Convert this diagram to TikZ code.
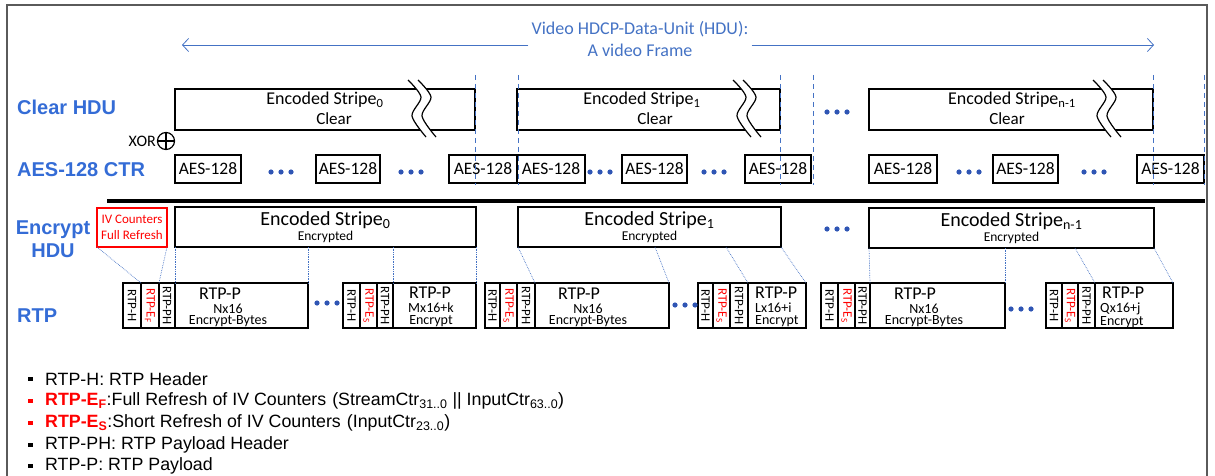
\documentclass[tikz,border=0pt]{standalone}
\usepackage{fontspec}
\setmainfont{Carlito}
\newfontfamily\arialf{Liberation Sans}
\usetikzlibrary{arrows.meta,calc}
\definecolor{lblue}{RGB}{68,114,196}
\definecolor{hblue}{RGB}{52,108,214}
\definecolor{dblue}{RGB}{47,85,180}
\definecolor{frame}{RGB}{90,90,90}
\newcommand\fs[2]{\fontsize{#1}{#2}\selectfont}
\newcommand\threedots[2]{\foreach \k in {-10,0,10}{\fill[dblue] (#1+\k,#2) circle[radius=2.6];}}
\newcommand\brk[1]{%
  \fill[white] plot[smooth] coordinates {(#1,80) (#1+13,97) (#1+4,116) (#1+18,137)} -- plot[smooth] coordinates {(#1+28,137) (#1+14,116) (#1+23,97) (#1+10,80)} -- cycle;
  \draw[line width=1.2] plot[smooth] coordinates {(#1,80) (#1+13,97) (#1+4,116) (#1+18,137)};
  \draw[line width=1.2] plot[smooth] coordinates {(#1+10,80) (#1+23,97) (#1+14,116) (#1+28,137)};
}
\newcommand\pkt[7]{%
  \node[cell,minimum width={#3-#2}] (#1h) at (#2,283) {};
  \node[cell,minimum width={#4-#3}] (#1e) at (#3,283) {};
  \node[cell,minimum width={#5-#4}] (#1ph) at (#4,283) {};
  \node[cell,minimum width={#6-#5}] (#1p) at (#5,283) {};
  \node[rot] at (#1h.center) {RTP-H};
  \node[rot,text=red] at (#1e.center) {RTP-E\textsubscript{#7}};
  \node[rot] at (#1ph.center) {RTP-PH};
}
\begin{document}
\begin{tikzpicture}[x=1pt,y=-1pt,
  box/.style={draw,line width=1.2pt,inner sep=0pt,outer sep=0pt,anchor=north west},
  cell/.style={box,minimum height=45},
  rot/.style={rotate=-90,font=\fs{13}{13},inner sep=0pt},
  aes/.style={box,minimum height=28,font=\fs{17.5}{18}},
  lab/.style={text=hblue,font=\arialf\bfseries\fs{20}{23},inner sep=0pt},
  conn/.style={lblue,line width=0.7pt,densely dotted},
  vdash/.style={lblue,line width=1pt,dash pattern=on 5pt off 4pt},
  harrow/.style={lblue,line width=0.8pt,-{Straight Barb[length=6pt,width=13pt]}},
  leg/.style={anchor=west,inner sep=0pt,font=\arialf\fs{17.8}{19}},
  pt/.style={font=\fs{18}{18},inner sep=0pt},
  ps/.style={font=\fs{14}{14},inner sep=0pt}]
\useasboundingbox (0,0) rectangle (1215,476);
\clip (0,0) rectangle (1215,476);
\draw[frame,line width=1.6pt] (7,5) rectangle (1207,500);

% title and arrow
\node[text=lblue,align=center,font=\fs{18}{22},inner sep=0pt] (title) at (640,39) {Video HDCP-Data-Unit (HDU):\\A video Frame};
\coordinate (aL) at (182,45);
\coordinate (aR) at (1154,45);
\draw[harrow] ([xshift=-3pt]title.west |- aL) -- (aL);
\draw[harrow] ([xshift=3pt]title.east |- aR) -- (aR);

% row labels
\node[lab,anchor=west] (lclear) at (17,107) {Clear HDU};
\node[lab,anchor=west] (laes) at (17,170) {AES-128 CTR};
\node[lab,align=center] (lenc) at (53,239) {Encrypt\\HDU};
\node[lab,anchor=west] (lrtp) at (17,316) {RTP};

% clear stripes
\node[box,minimum width=300,minimum height=41] (c0) at (175,89) {};
\node[box,minimum width=263,minimum height=41] (c1) at (517,89) {};
\node[box,minimum width=284,minimum height=41] (c2) at (869,89) {};
\brk{408}
\brk{733}
\brk{1093}
\node[font=\fs{18}{18},inner sep=0pt] at (325,100) {Encoded Stripe\textsubscript{0}};
\node[font=\fs{17}{17},inner sep=0pt] at (334,119) {Clear};
\node[font=\fs{18}{18},inner sep=0pt] at (642,100) {Encoded Stripe\textsubscript{1}};
\node[font=\fs{17}{17},inner sep=0pt] at (655,119) {Clear};
\node[font=\fs{18}{18},inner sep=0pt] at (1012,100) {Encoded Stripe\textsubscript{n-1}};
\node[font=\fs{17}{17},inner sep=0pt] at (1007,119) {Clear};
\threedots{837}{112}

% XOR
\node[font=\fs{16}{16},inner sep=0pt,anchor=east] (xor) at (156,141) {XOR};
\node[draw,circle,line width=1.2pt,minimum size=17,inner sep=0pt] (xc) at (166,141) {};
\draw[line width=1.2pt] (xc.north) -- (xc.south) (xc.west) -- (xc.east);

% AES row
\node[aes,minimum width=66] (a1) at (175,155) {AES-128};
\node[aes,minimum width=64] (a2) at (316,155) {AES-128};
\node[aes,minimum width=68] (a3) at (449,155) {AES-128};
\node[aes,minimum width=68] (a4) at (517,155) {AES-128};
\node[aes,minimum width=65] (a5) at (622,155) {AES-128};
\node[aes,minimum width=66] (a6) at (745,155) {AES-128};
\node[aes,minimum width=68] (a7) at (869,155) {AES-128};
\node[aes,minimum width=65] (a8) at (993,155) {AES-128};
\node[aes,minimum width=67] (a9) at (1137,155) {AES-128};
\threedots{281}{172}
\threedots{411}{172}
\threedots{600}{172}
\threedots{714}{172}
\threedots{969}{172}
\threedots{1094}{172}

% dashed boundaries
\foreach \xx in {475,518,780,813,1153,1204} {\draw[vdash] (\xx,75) -- (\xx,185);}

% separator
\draw[line width=4pt] (107,201) -- (1205,201);

% encrypted row
\node[box,draw=red,text=red,minimum width=70,minimum height=39,align=center,font=\fs{13}{16}] (iv) at (97,208) {IV Counters\\Full Refresh};
\node[box,minimum width=301,minimum height=40] (e0) at (175,207) {};
\node[box,minimum width=263,minimum height=40] (e1) at (518,207) {};
\node[box,minimum width=285,minimum height=40] (e2) at (869,208) {};
\node[font=\fs{20}{20},inner sep=0pt] at ($(e0.north)+(0,13)$) {Encoded Stripe\textsubscript{0}};
\node[font=\fs{13.5}{14},inner sep=0pt] at ($(e0.north)+(0,30)$) {Encrypted};
\node[font=\fs{20}{20},inner sep=0pt] at ($(e1.north)+(0,13)$) {Encoded Stripe\textsubscript{1}};
\node[font=\fs{13.5}{14},inner sep=0pt] at ($(e1.north)+(0,30)$) {Encrypted};
\node[font=\fs{20}{20},inner sep=0pt] at ($(e2.north)+(0,13)$) {Encoded Stripe\textsubscript{n-1}};
\node[font=\fs{13.5}{14},inner sep=0pt] at ($(e2.north)+(0,30)$) {Encrypted};
\threedots{837}{229}

% RTP packets
\pkt{p1}{123}{141}{159}{175}{308}{F}
\pkt{p2}{343}{360}{377}{393}{476}{S}
\pkt{p3}{485}{500}{517}{535}{669}{S}
\pkt{p4}{698}{713}{730}{748}{806}{S}
\pkt{p5}{821}{838}{855}{870}{1005}{S}
\pkt{p6}{1046}{1062}{1078}{1095}{1173}{S}
\threedots{327}{303}
\threedots{685}{305}
\threedots{1021}{309}

% payload texts
\node[pt] at ($(p1p.north west)+(45,11)$) {RTP-P};
\node[ps] at ($(p1p.north west)+(53,25.5)$) {Nx16};
\node[ps] at ($(p1p.north west)+(53,38.5)$) {Encrypt-Bytes};
\node[pt] at ($(p3p.north west)+(44,11)$) {RTP-P};
\node[ps] at ($(p3p.north west)+(53,25.5)$) {Nx16};
\node[ps] at ($(p3p.north west)+(53,38.5)$) {Encrypt-Bytes};
\node[pt] at ($(p5p.north west)+(45,11)$) {RTP-P};
\node[ps] at ($(p5p.north west)+(54,25.5)$) {Nx16};
\node[ps] at ($(p5p.north west)+(54,38.5)$) {Encrypt-Bytes};
\node[pt] at ($(p2p.north west)+(37,10)$) {RTP-P};
\node[ps] at ($(p2p.north west)+(38,24.5)$) {Mx16+k};
\node[ps] at ($(p2p.north west)+(38,38.5)$) {Encrypt};
\node[pt,anchor=west] at ($(p4p.north west)+(7,10)$) {RTP-P};
\node[ps,anchor=west] at ($(p4p.north west)+(7,24.5)$) {Lx16+i};
\node[ps,anchor=west] at ($(p4p.north west)+(7,38.5)$) {Encrypt};
\node[pt,anchor=west] at ($(p6p.north west)+(7,9.5)$) {RTP-P};
\node[ps,anchor=west] at ($(p6p.north west)+(5,25.5)$) {Qx16+j};
\node[ps,anchor=west] at ($(p6p.north west)+(5,39)$) {Encrypt};

% connectors
\draw[conn] (iv.south west) -- (p1h.north east);
\draw[conn] (iv.south east) -- (p1e.north east);
\draw[conn] (e0.south west) -- (p1p.north west);
\draw[conn] (p1p.north east |- e0.south) -- (p1p.north east);
\draw[conn] (p2p.north west |- e0.south) -- (p2p.north west);
\draw[conn] (e0.south east) -- (p2p.north east);
\draw[conn] (e1.south west) -- (p3p.north west);
\draw[conn] ([xshift=-14pt]p3p.north east |- e1.south) -- (p3p.north east);
\draw[conn] ([xshift=-22pt]p4p.north west |- e1.south) -- (p4p.north west);
\draw[conn] (e1.south east) -- (p4p.north east);
\draw[conn] (e2.south west) -- (p5p.north west);
\draw[conn] (p5p.north east |- e2.south) -- (p5p.north east);
\draw[conn] ([xshift=-20pt]p6p.north west |- e2.south) -- (p6p.north west);
\draw[conn] (e2.south east) -- (p6p.north east);

% legend
\foreach \yy/\cc in {379/black,401/red,423/red,445/black,466/black} {\fill[\cc] (28,\yy-2.3) rectangle (32.6,\yy+2.3);}
\node[leg] (g1) at (45,379) {RTP-H: RTP Header};
\node[leg] (g2) at (45,401) {{\bfseries\color{red}RTP-E\textsubscript{F}}:Full Refresh of IV Counters\hspace{6pt}(StreamCtr\textsubscript{31..0} || InputCtr\textsubscript{63..0})};
\node[leg] (g3) at (45,423) {{\bfseries\color{red}RTP-E\textsubscript{S}}:Short Refresh of IV Counters\hspace{6pt}(InputCtr\textsubscript{23..0})};
\node[leg] (g4) at (45,445) {RTP-PH: RTP Payload Header};
\node[leg] (g5) at (45,466) {RTP-P: RTP Payload};
\end{tikzpicture}
\end{document}
